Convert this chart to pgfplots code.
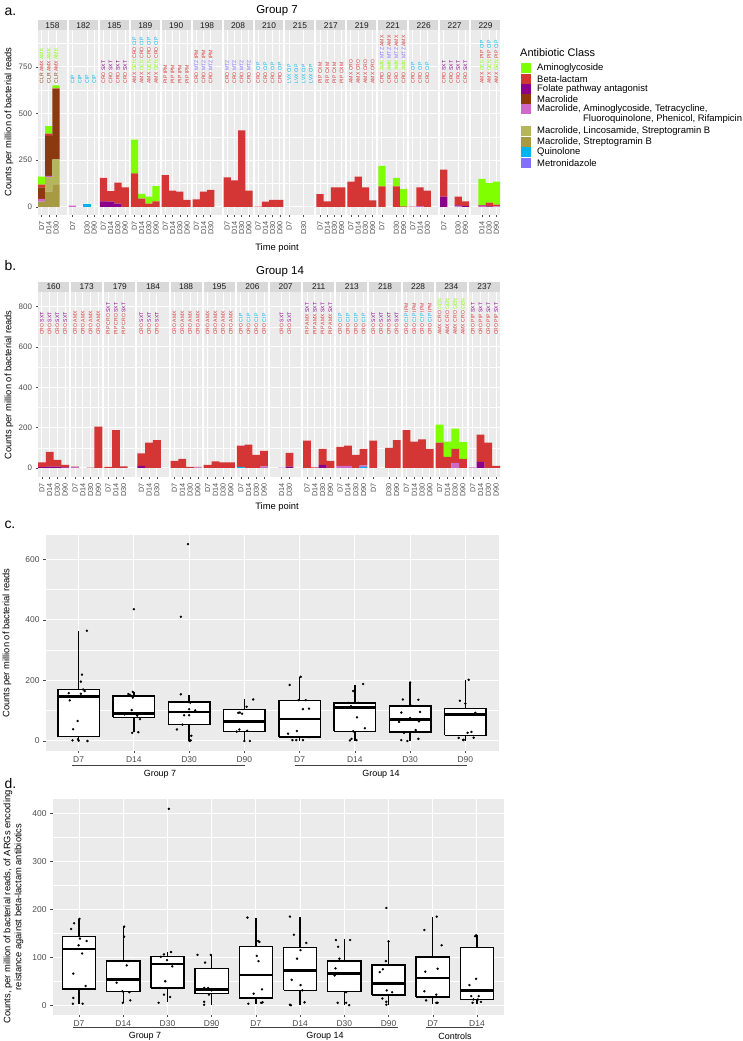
\documentclass[border=0pt]{standalone}
\usepackage{fontspec}
\setmainfont{Liberation Sans}
\usepackage{pgfplots}
\usepackage{pgfplotstable}
\pgfplotsset{compat=1.18}

\definecolor{panelbg}{HTML}{EBEBEB}
\definecolor{stripbg}{HTML}{D9D9D9}
\definecolor{strtxt}{HTML}{1A1A1A}
\definecolor{gtick}{HTML}{4D4D4D}
\definecolor{cAG}{HTML}{7FFF00}
\definecolor{cBL}{HTML}{D43535}
\definecolor{cFP}{HTML}{8B008B}
\definecolor{cMAC}{HTML}{8B3A0F}
\definecolor{cMIX}{HTML}{CD69C9}
\definecolor{cMLS}{HTML}{B5B55D}
\definecolor{cMS}{HTML}{A89A45}
\definecolor{cQ}{HTML}{00B2EE}
\definecolor{cMTZ}{HTML}{8470FF}

\newcommand\fs[1]{\fontsize{#1}{#1}\selectfont}
\newcommand\ab[2]{\textcolor{#1}{#2}}

\newcommand\bgfacet[2]{%
  \pgfmathsetmacro\xa{#1*\PP}%
  \pgfmathsetmacro\xb{#1*\PP+4}%
  \pgfmathsetmacro\xm{#1*\PP+2}%
  \edef\tmp{\noexpand\fill[panelbg] (axis cs:\xa,\YMIN) rectangle (axis cs:\xb,\YMAX);
    \noexpand\fill[stripbg] (axis cs:\xa,\YMAX) rectangle ([yshift=\STRIPH]axis cs:\xb,\YMAX);
    \noexpand\node[striptxt] at ([yshift=\STRIPM]axis cs:\xm,\YMAX) {#2};}%
  \tmp}

\newcommand\abx[3]{%
  \foreach \s in {#2}{%
    \pgfmathsetmacro\xx{#1*\PP+\s+0.5}%
    \edef\tmp{\noexpand\node[abl] at (axis cs:\xx,660) {\unexpanded{#3}};}%
    \tmp}}

\newcommand\stackplots[2]{%
  \addplot[fill=cMTZ,draw=none] table[x expr=\thisrow{f}*#2+\thisrow{s}+0.5, y=mtz] {#1};
  \addplot[fill=cQ,draw=none] table[x expr=\thisrow{f}*#2+\thisrow{s}+0.5, y=q] {#1};
  \addplot[fill=cMS,draw=none] table[x expr=\thisrow{f}*#2+\thisrow{s}+0.5, y=ms] {#1};
  \addplot[fill=cMLS,draw=none] table[x expr=\thisrow{f}*#2+\thisrow{s}+0.5, y=mls] {#1};
  \addplot[fill=cMIX,draw=none] table[x expr=\thisrow{f}*#2+\thisrow{s}+0.5, y=mix] {#1};
  \addplot[fill=cMAC,draw=none] table[x expr=\thisrow{f}*#2+\thisrow{s}+0.5, y=mac] {#1};
  \addplot[fill=cFP,draw=none] table[x expr=\thisrow{f}*#2+\thisrow{s}+0.5, y=fp] {#1};
  \addplot[fill=cBL,draw=none] table[x expr=\thisrow{f}*#2+\thisrow{s}+0.5, y=bl] {#1};
  \addplot[fill=cAG,draw=none] table[x expr=\thisrow{f}*#2+\thisrow{s}+0.5, y=ag] {#1};
}

\pgfplotsset{
  bgax/.style={scale only axis, anchor=south west, hide axis, clip=false},
  fgax/.style={scale only axis, anchor=south west, axis line style={draw=none},
    tick pos=left, tick align=outside, major tick length=2.5bp, minor tick length=0pt,
    tick style={gtick, line width=0.5bp}, grid=both,
    major grid style={white, line width=1bp}, minor grid style={white, line width=0.5bp},
    tick label style={font=\fs{8}, text=gtick},
    /pgf/number format/assume math mode=true, scaled ticks=false},
  whisk/.style={black, line width=1.4bp, unbounded coords=jump, mark=none},
  boxes/.style={draw=black, fill=white, line width=1.4bp, line join=miter, unbounded coords=jump, mark=none},
  meds/.style={black, line width=2.6bp, unbounded coords=jump, mark=none},
  pts/.style={only marks, mark=*, mark size=1bp, black},
}
\tikzset{
  striptxt/.style={font=\fs{8.4}, text=strtxt, inner sep=0pt},
  abl/.style={rotate=90, anchor=west, inner sep=0pt, font=\fs{5.1}},
}

% Panel a data: facet index f, slot s (0=D7,1=D14,2=D30,3=D90)
\pgfplotstableread{
f s lab mtz q ms mls mix mac fp bl ag
0 0 D7 0 0 28 0 15 62 0 15 42
0 1 D14 0 0 82 78 6 215 0 12 40
0 2 D30 0 0 118 137 0 375 0 5 15
1 0 D7 0 0 0 0 7 0 0 0 0
1 2 D30 0 18 0 0 0 0 0 0 0
1 3 D90 0 0 0 0 0 0 0 0 0
2 0 D7 0 0 0 0 0 0 30 125 0
2 1 D14 0 0 0 0 0 0 28 57 0
2 2 D30 0 0 0 0 0 0 18 112 0
2 3 D90 0 0 0 0 0 0 0 105 0
3 0 D7 0 0 0 0 0 0 0 180 180
3 1 D14 0 0 0 0 0 0 0 45 25
3 2 D30 0 0 0 0 0 0 0 18 37
3 3 D90 0 0 0 0 0 0 0 30 82
4 0 D7 0 0 0 0 0 0 0 170 0
4 1 D14 0 0 0 0 0 0 0 88 0
4 2 D30 0 0 0 0 0 0 0 82 0
4 3 D90 0 0 0 0 0 0 0 38 0
5 0 D7 0 0 0 0 0 0 0 40 0
5 1 D14 0 0 0 0 0 0 0 82 0
5 2 D30 0 0 0 0 0 0 0 92 0
6 0 D7 0 0 0 0 0 0 0 158 0
6 1 D14 0 0 0 0 0 0 0 142 0
6 2 D30 0 0 0 0 0 0 0 410 0
6 3 D90 0 0 0 0 0 0 0 88 0
7 0 D7 0 0 0 0 0 0 0 2 0
7 1 D14 0 0 0 0 0 0 0 28 0
7 2 D30 0 0 0 0 0 0 0 38 0
7 3 D90 0 0 0 0 0 0 0 38 0
8 0 D7 0 0 0 0 0 0 0 0 0
8 2 D30 0 0 0 0 0 0 0 0 0
9 0 D7 0 0 0 0 0 0 0 68 0
9 1 D14 0 0 0 0 0 0 0 30 0
9 2 D30 0 0 0 0 0 0 0 105 0
9 3 D90 0 0 0 0 0 0 0 105 0
10 0 D7 0 0 0 0 0 0 0 135 0
10 1 D14 0 0 0 0 0 0 0 162 0
10 2 D30 0 0 0 0 0 0 0 105 0
10 3 D90 0 0 0 0 0 0 0 35 0
11 0 D7 0 0 0 0 0 0 0 110 110
11 2 D30 0 0 0 0 0 0 0 110 45
11 3 D90 0 0 0 0 0 0 0 3 92
12 0 D7 0 0 0 0 0 0 0 2 0
12 1 D14 0 0 0 0 4 0 0 101 0
12 2 D30 0 0 0 0 0 0 0 88 0
13 0 D7 0 0 0 0 0 0 55 145 0
13 2 D30 0 0 0 0 3 0 5 47 0
13 3 D90 0 0 0 0 0 0 5 25 0
14 1 D14 0 0 0 0 4 0 3 3 140
14 2 D30 0 0 0 0 0 0 3 20 104
14 3 D90 0 0 0 0 3 0 0 10 122
}\tabA

% Panel b data
\pgfplotstableread{
f s lab mtz q ms mls mix mac fp bl ag
0 0 D7 0 0 0 0 0 0 4 24 0
0 1 D14 0 0 0 0 0 0 6 74 0
0 2 D30 0 0 0 0 0 0 6 34 0
0 3 D90 0 0 0 0 0 0 3 12 0
1 0 D7 0 0 0 0 4 0 0 2 0
1 1 D14 0 0 0 0 0 0 0 0 0
1 2 D30 0 0 0 0 0 0 0 1 0
1 3 D90 0 0 0 0 0 0 0 205 0
2 0 D7 0 0 0 0 0 0 0 5 0
2 1 D14 0 0 0 0 0 0 0 188 0
2 2 D30 0 0 0 0 0 0 0 8 0
3 0 D7 0 0 0 0 0 0 10 62 0
3 1 D14 0 0 0 0 0 0 0 125 0
3 2 D30 0 0 0 0 0 0 0 138 0
4 0 D7 0 0 0 0 0 0 0 35 0
4 1 D14 0 0 0 0 0 0 0 45 0
4 2 D30 0 0 0 0 0 0 0 5 0
4 3 D90 0 0 0 0 3 0 0 2 0
5 0 D7 0 0 0 0 0 0 0 15 0
5 1 D14 0 0 0 0 0 0 0 32 0
5 2 D30 0 0 0 0 0 0 0 28 0
5 3 D90 0 0 0 0 0 0 0 28 0
6 0 D7 0 5 0 0 0 0 0 105 0
6 1 D14 0 0 0 0 0 0 0 115 0
6 2 D30 0 0 0 0 0 0 0 65 0
6 3 D90 0 0 0 0 8 0 0 77 0
7 1 D14 0 0 0 0 2 0 0 0 0
7 2 D30 0 0 0 0 0 0 6 69 0
8 0 D7 0 0 0 0 0 0 0 135 0
8 1 D14 0 0 0 0 0 0 0 3 0
8 2 D30 0 0 0 0 0 0 15 80 0
8 3 D90 0 0 0 0 0 0 0 35 0
9 0 D7 0 0 0 0 10 0 0 95 0
9 1 D14 0 0 0 0 10 0 0 100 0
9 2 D30 0 0 0 0 0 0 0 65 0
9 3 D90 0 5 0 0 8 0 0 82 0
10 0 D7 0 0 0 0 0 0 0 135 0
10 2 D30 0 0 0 0 0 0 0 100 0
10 3 D90 0 0 0 0 0 0 0 138 0
11 0 D7 0 0 0 0 0 0 0 188 0
11 1 D14 0 0 0 0 0 0 0 130 0
11 2 D30 0 0 0 0 0 0 0 142 0
11 3 D90 0 0 0 0 0 0 0 95 0
12 0 D7 0 0 0 0 0 0 0 125 90
12 1 D14 0 0 0 0 0 0 0 55 75
12 2 D30 0 0 0 0 25 0 0 70 100
12 3 D90 0 0 0 0 0 0 0 45 83
13 0 D7 0 0 0 0 3 0 0 0 0
13 1 D14 0 0 0 0 0 0 30 135 0
13 2 D30 0 0 0 0 0 0 0 125 0
13 3 D90 0 0 0 0 0 0 0 10 0
}\tabB

\begin{document}
\begin{tikzpicture}[x=1bp,y=1bp]
\path[use as bounding box] (0,0) rectangle (743,1041);

% ---------------- panel a ----------------
\node[anchor=west, font=\fs{14}] at (1,1029) {a.};
\node[font=\fs{11.5}] at (277,1030) {Group 7};
\def\PP{4.28}\def\YMIN{-43}\def\YMAX{947}\def\STRIPH{9.5bp}\def\STRIPM{4.75bp}
\begin{axis}[bgax, at={(38bp,826bp)}, width=462bp, height=185bp,
  xmin=0, xmax=63.92, ymin=-43, ymax=947]
\bgfacet{0}{158}\bgfacet{1}{182}\bgfacet{2}{185}\bgfacet{3}{189}\bgfacet{4}{190}
\bgfacet{5}{198}\bgfacet{6}{208}\bgfacet{7}{210}\bgfacet{8}{215}\bgfacet{9}{217}
\bgfacet{10}{219}\bgfacet{11}{221}\bgfacet{12}{226}\bgfacet{13}{227}\bgfacet{14}{229}
\end{axis}
\begin{axis}[fgax, at={(38bp,826bp)}, width=462bp, height=185bp,
  xmin=0, xmax=63.92, ymin=-43, ymax=947,
  ybar stacked, bar width=1,
  ytick={0,250,500,750}, minor ytick={125,375,625,875},
  xtick=data, xticklabels from table={\tabA}{lab},
  xticklabel style={rotate=90, anchor=east, font=\fs{7.3}}]
\stackplots{\tabA}{4.28}
\abx{0}{0,1,2}{\ab{cMAC}{CLR} \ab{cBL}{AMX} \ab{cAG}{AMK}}
\abx{1}{0,1,2,3}{\ab{cQ}{CIP}}
\abx{2}{0,1,2,3}{\ab{cBL}{CRO} \ab{cFP}{SXT}}
\abx{3}{0,1,2,3}{\ab{cBL}{AMX} \ab{cAG}{GEN} \ab{cBL}{CRO} \ab{cQ}{CIP}}
\abx{4}{0,1,2,3}{\ab{cBL}{PIP} \ab{cBL}{IPM}}
\abx{5}{0,1,2}{\ab{cBL}{CRO} \ab{cMTZ}{MTZ} \ab{cBL}{IPM}}
\abx{6}{0,1,2,3}{\ab{cBL}{CRO} \ab{cMTZ}{MTZ}}
\abx{7}{0,1,2,3}{\ab{cBL}{CRO} \ab{cQ}{CIP}}
\abx{8}{0,1,2,3}{\ab{cQ}{LVX} \ab{cQ}{CIP}}
\abx{9}{0,1,2,3}{\ab{cBL}{PIP} \ab{cBL}{CXM}}
\abx{10}{0,1,2,3}{\ab{cBL}{AMX} \ab{cBL}{CRO}}
\abx{11}{0,1,2,3}{\ab{cBL}{CRO} \ab{cAG}{AMK} \ab{cMTZ}{MTZ} \ab{cBL}{AMX}}
\abx{12}{0,1,2}{\ab{cBL}{CRO} \ab{cQ}{CIP}}
\abx{13}{0,1,2,3}{\ab{cBL}{CRO} \ab{cFP}{SXT}}
\abx{14}{1,2,3}{\ab{cBL}{AMX} \ab{cAG}{GEN} \ab{cBL}{PIP} \ab{cQ}{CIP}}
\end{axis}
\node[rotate=90, font=\fs{9.4}] at (9,919) {Counts per million of bacterial reads};
\node[font=\fs{9.4}] at (277,793) {Time point};

% legend
\node[anchor=west, font=\fs{11}, inner sep=0pt] at (520,988) {Antibiotic Class};
\newcommand\legitem[3]{\fill[#1] (520.7,{1041-#2-5}) rectangle ++(10,10);
  \node[anchor=west, font=\fs{9.5}, inner sep=0pt] at (537,{1041-#2}) {#3};}
\legitem{cAG}{68.3}{Aminoglycoside}
\legitem{cBL}{78.7}{Beta-lactam}
\legitem{cFP}{88.8}{Folate pathway antagonist}
\legitem{cMAC}{99}{Macrolide}
\legitem{cMIX}{109.3}{Macrolide, Aminoglycoside, Tetracycline,}
\node[anchor=west, font=\fs{9.5}, inner sep=0pt] at (583,{1041-119.3}) {Fluoroquinolone, Phenicol, Rifampicin};
\legitem{cMLS}{131}{Macrolide, Lincosamide, Streptogramin B}
\legitem{cMS}{141.7}{Macrolide, Streptogramin B}
\legitem{cQ}{152.3}{Quinolone}
\legitem{cMTZ}{162.7}{Metronidazole}

% ---------------- panel b ----------------
\node[anchor=west, font=\fs{14}] at (1,775) {b.};
\node[font=\fs{11.5}] at (280,769) {Group 14};
\def\PP{4.26}\def\YMIN{-45}\def\YMAX{873}\def\STRIPH{10bp}\def\STRIPM{5bp}
\begin{axis}[bgax, at={(38bp,564bp)}, width=462bp, height=185bp,
  xmin=0, xmax=59.38, ymin=-45, ymax=873]
\bgfacet{0}{160}\bgfacet{1}{173}\bgfacet{2}{179}\bgfacet{3}{184}\bgfacet{4}{188}
\bgfacet{5}{195}\bgfacet{6}{206}\bgfacet{7}{207}\bgfacet{8}{211}\bgfacet{9}{213}
\bgfacet{10}{218}\bgfacet{11}{228}\bgfacet{12}{234}\bgfacet{13}{237}
\end{axis}
\begin{axis}[fgax, at={(38bp,564bp)}, width=462bp, height=185bp,
  xmin=0, xmax=59.38, ymin=-45, ymax=873,
  ybar stacked, bar width=1,
  ytick={0,200,400,600,800}, minor ytick={100,300,500,700},
  xtick=data, xticklabels from table={\tabB}{lab},
  xticklabel style={rotate=90, anchor=east, font=\fs{7.3}}]
\stackplots{\tabB}{4.26}
\abx{0}{0,1,2,3}{\ab{cBL}{CRO} \ab{cFP}{SXT}}
\abx{1}{0,1,2,3}{\ab{cBL}{CRO} \ab{cBL}{AMX}}
\abx{2}{0,1,2}{\ab{cBL}{PIP} \ab{cBL}{CRO} \ab{cFP}{SXT}}
\abx{3}{0,1,2}{\ab{cBL}{CRO} \ab{cFP}{SXT}}
\abx{4}{0,1,2,3}{\ab{cBL}{CRO} \ab{cBL}{AMX}}
\abx{5}{0,1,2,3}{\ab{cBL}{CRO} \ab{cBL}{AMX}}
\abx{6}{0,1,2,3}{\ab{cBL}{CRO} \ab{cQ}{CIP}}
\abx{7}{1,2}{\ab{cBL}{CRO} \ab{cFP}{SXT}}
\abx{8}{0,1,2,3}{\ab{cBL}{PIP} \ab{cBL}{AMX} \ab{cFP}{SXT}}
\abx{9}{0,1,2,3}{\ab{cBL}{CRO} \ab{cQ}{CIP}}
\abx{10}{0,1,2,3}{\ab{cBL}{CRO} \ab{cFP}{SXT}}
\abx{11}{0,1,2,3}{\ab{cBL}{CRO} \ab{cQ}{CIP} \ab{cBL}{IPM}}
\abx{12}{0,1,2,3}{\ab{cBL}{AMX} \ab{cBL}{CRO} \ab{cAG}{GEN}}
\abx{13}{0,1,2,3}{\ab{cBL}{CRO} \ab{cBL}{PIP} \ab{cFP}{SXT}}
\end{axis}
\node[rotate=90, font=\fs{9.4}] at (9,656) {Counts per million of bacterial reads};
\node[font=\fs{9.4}] at (277,534) {Time point};

% ---------------- panel c ----------------
\node[anchor=west, font=\fs{14}] at (1,516) {c.};
\begin{axis}[fgax, at={(45.5bp,290bp)}, width=453bp, height=216bp,
  xmin=0.4, xmax=8.6, ymin=-33, ymax=680,
  axis background/.style={fill=panelbg},
  xtick={1,2,3,4,5,6,7,8}, xticklabels={D7,D14,D30,D90,D7,D14,D30,D90},
  ytick={0,200,400,600}, minor ytick={100,300,500},
  tick label style={font=\fs{8.5}, text=gtick}]
% whiskers (lower whisker - Q1, Q3 - upper whisker)
\addplot[whisk] coordinates {
(1,0) (1,14) (1,nan) (1,169) (1,363) (1,nan)
(2,29) (2,78) (2,nan) (2,149) (2,162) (2,nan)
(3,0) (3,54) (3,nan) (3,129) (3,152) (3,nan)
(4,0) (4,31) (4,nan) (4,103) (4,138) (4,nan)
(5,0) (5,13) (5,nan) (5,133) (5,212) (5,nan)
(6,0) (6,32) (6,nan) (6,126) (6,185) (6,nan)
(7,0) (7,30) (7,nan) (7,115) (7,193) (7,nan)
(8,0) (8,19) (8,nan) (8,108) (8,201)};
% boxes Q1..Q3
\addplot[boxes] coordinates {
(0.625,14) (1.375,14) (1.375,169) (0.625,169) (0.625,14) (1,nan)
(1.625,78) (2.375,78) (2.375,149) (1.625,149) (1.625,78) (2,nan)
(2.625,54) (3.375,54) (3.375,129) (2.625,129) (2.625,54) (3,nan)
(3.625,31) (4.375,31) (4.375,103) (3.625,103) (3.625,31) (4,nan)
(4.625,13) (5.375,13) (5.375,133) (4.625,133) (4.625,13) (5,nan)
(5.625,32) (6.375,32) (6.375,126) (5.625,126) (5.625,32) (6,nan)
(6.625,30) (7.375,30) (7.375,115) (6.625,115) (6.625,30) (7,nan)
(7.625,19) (8.375,19) (8.375,108) (7.625,108) (7.625,19)};
% medians
\addplot[meds] coordinates {
(0.625,146) (1.375,146) (1,nan) (1.625,91) (2.375,91) (2,nan)
(2.625,96) (3.375,96) (3,nan) (3.625,64) (4.375,64) (4,nan)
(4.625,72) (5.375,72) (5,nan) (5.625,110) (6.375,110) (6,nan)
(6.625,71) (7.375,71) (7,nan) (7.625,87) (8.375,87)};
\addplot[pts] coordinates {
(0.82,158) (0.84,134) (0.98,66) (0.90,39) (0.89,2) (0.99,6) (1.00,1) (1.16,0) (1.15,364) (1.06,219) (1.04,196) (1.04,156) (1.11,165) (1.08,170)
(2.00,435) (1.98,162) (1.93,152) (1.90,155) (1.98,143) (1.96,102) (1.83,88) (2.11,72) (2.06,84) (1.97,27) (2.08,29)
(2.98,650) (2.85,410) (2.85,154) (2.99,129) (3.02,127) (3.00,105) (3.11,101) (2.91,85) (3.00,85) (2.78,38) (2.88,54) (3.04,17) (3.01,0) (3.03,2)
(3.89,93) (3.92,94) (4.04,113) (4.16,137) (3.91,38) (4.05,34) (3.86,31) (4.00,0) (4.10,0) (3.96,90)
(4.82,185) (4.98,135) (5.11,135) (5.06,105) (5.17,107) (4.79,24) (4.95,33) (4.87,3) (4.94,3) (5.06,3) (5.17,13) (5.02,212)
(6.15,188) (5.97,165) (5.88,126) (6.06,126) (6.04,78) (5.93,115) (6.18,42) (5.97,32) (5.91,2) (5.94,7) (6.03,3)
(6.87,137) (7.15,136) (6.84,94) (7.18,96) (6.80,63) (7.16,65) (7.00,76) (6.89,27) (7.10,36) (6.84,3) (6.95,0) (7.15,7) (7.00,193) (7.01,118)
(8.06,202) (7.90,133) (8.18,93) (7.88,10) (7.97,4) (8.04,27) (8.11,30) (8.15,11) (8.00,124) (7.96,3)
};
\end{axis}
\node[rotate=90, font=\fs{9.4}] at (7,398) {Counts per million of bacterial reads};
\draw[black!75, line width=0.7bp] (72,276) -- (245,276);
\draw[black!75, line width=0.7bp] (295,276) -- (467,276);
\node[font=\fs{9}] at (160,267) {Group 7};
\node[font=\fs{9}] at (381,267) {Group 14};

% ---------------- panel d ----------------
\node[anchor=west, font=\fs{14}] at (1,257) {d.};
\begin{axis}[fgax, at={(52.5bp,26bp)}, width=451bp, height=216bp,
  xmin=0.4, xmax=10.6, ymin=-20.5, ymax=430.5,
  axis background/.style={fill=panelbg},
  xtick={1,2,3,4,5,6,7,8,9,10}, xticklabels={D7,D14,D30,D90,D7,D14,D30,D90,D7,D14},
  ytick={0,100,200,300,400}, minor ytick={50,150,250,350},
  tick label style={font=\fs{8.5}, text=gtick}]
\addplot[whisk] coordinates {
(1,3) (1,34) (1,nan) (1,144) (1,180) (1,nan)
(2,5) (2,28) (2,nan) (2,92) (2,164) (2,nan)
(3,6) (3,36) (3,nan) (3,102) (3,112) (3,nan)
(4,0) (4,24) (4,nan) (4,76) (4,104) (4,nan)
(5,3) (5,15) (5,nan) (5,122) (5,183) (5,nan)
(6,0) (6,31) (6,nan) (6,121) (6,185) (6,nan)
(7,0) (7,28) (7,nan) (7,92) (7,138) (7,nan)
(8,0) (8,21) (8,nan) (8,84) (8,133) (8,nan)
(9,3) (9,17) (9,nan) (9,101) (9,185) (9,nan)
(10,3) (10,12) (10,nan) (10,121) (10,146)};
\addplot[boxes] coordinates {
(0.625,34) (1.375,34) (1.375,144) (0.625,144) (0.625,34) (1,nan)
(1.625,28) (2.375,28) (2.375,92) (1.625,92) (1.625,28) (2,nan)
(2.625,36) (3.375,36) (3.375,102) (2.625,102) (2.625,36) (3,nan)
(3.625,24) (4.375,24) (4.375,76) (3.625,76) (3.625,24) (4,nan)
(4.625,15) (5.375,15) (5.375,122) (4.625,122) (4.625,15) (5,nan)
(5.625,31) (6.375,31) (6.375,121) (5.625,121) (5.625,31) (6,nan)
(6.625,28) (7.375,28) (7.375,92) (6.625,92) (6.625,28) (7,nan)
(7.625,21) (8.375,21) (8.375,84) (7.625,84) (7.625,21) (8,nan)
(8.625,17) (9.375,17) (9.375,101) (8.625,101) (8.625,17) (9,nan)
(9.625,12) (10.375,12) (10.375,121) (9.625,121) (9.625,12)};
\addplot[meds] coordinates {
(0.625,117) (1.375,117) (1,nan) (1.625,54) (2.375,54) (2,nan)
(2.625,86) (3.375,86) (3,nan) (3.625,33) (4.375,33) (4,nan)
(4.625,63) (5.375,63) (5,nan) (5.625,73) (6.375,73) (6,nan)
(6.625,66) (7.375,66) (7,nan) (7.625,45) (8.375,45) (8,nan)
(8.625,57) (9.375,57) (9,nan) (9.625,31) (10.375,31)};
\addplot[pts] coordinates {
(0.89,171) (0.82,159) (1.01,180) (1.02,139) (0.99,125) (1.07,108) (0.87,66) (1.15,40) (0.87,15) (0.86,3) (1.08,3) (1.17,134)
(2.02,164) (2.02,143) (2.08,83) (2.11,92) (1.85,47) (1.99,5) (2.16,10) (2.14,27) (1.98,29)
(3.03,410) (2.85,101) (2.92,106) (3.08,111) (2.99,94) (3.11,81) (2.95,50) (2.83,36) (2.92,22) (3.06,17) (2.80,5)
(3.68,105) (3.98,105) (3.85,89) (3.83,36) (3.92,36) (4.00,31) (3.94,22) (3.83,7) (3.83,1)
(4.81,183) (5.05,134) (5.08,132) (5.02,103) (5.06,92) (4.95,24) (5.14,33) (4.83,3) (5.12,5) (5.15,6)
(5.77,185) (5.86,147) (6.14,130) (5.93,97) (6.01,115) (5.81,53) (6.01,42) (6.05,31) (5.79,0) (5.77,1) (6.10,6)
(6.81,136) (7.13,136) (6.86,122) (6.89,97) (6.80,77) (6.78,62) (7.04,27) (6.85,5) (7.04,5) (7.11,0)
(7.95,203) (8.00,133) (7.94,92) (7.87,75) (7.80,69) (7.96,31) (8.08,27) (7.86,14) (7.95,7) (7.95,1)
(9.09,185) (8.81,157) (9.20,125) (9.11,76) (8.83,70) (8.81,29) (9.08,22) (8.85,10) (9.08,5) (9.11,5)
(9.98,146) (9.96,144) (9.98,55) (9.83,42) (9.87,19) (10.04,19) (9.92,12) (10.02,12) (10.09,7) (9.90,5)
};
\end{axis}
\node[rotate=90, font=\fs{9.4}, align=center] at (13.5,134) {\fs{9.4}Counts, per million of bacterial reads, of ARGs encoding\\[1.5bp]\fs{9.4}reistance against beta-lactam antibiotics};
\draw[black!75, line width=0.7bp] (73,14) -- (218,14);
\draw[black!75, line width=0.7bp] (250,14) -- (398,14);
\draw[black!75, line width=0.7bp] (426,14) -- (483,14);
\node[font=\fs{9}] at (145,5) {Group 7};
\node[font=\fs{9}] at (325,5) {Group 14};
\node[font=\fs{9}] at (455,5) {Controls};
\end{tikzpicture}
\end{document}
